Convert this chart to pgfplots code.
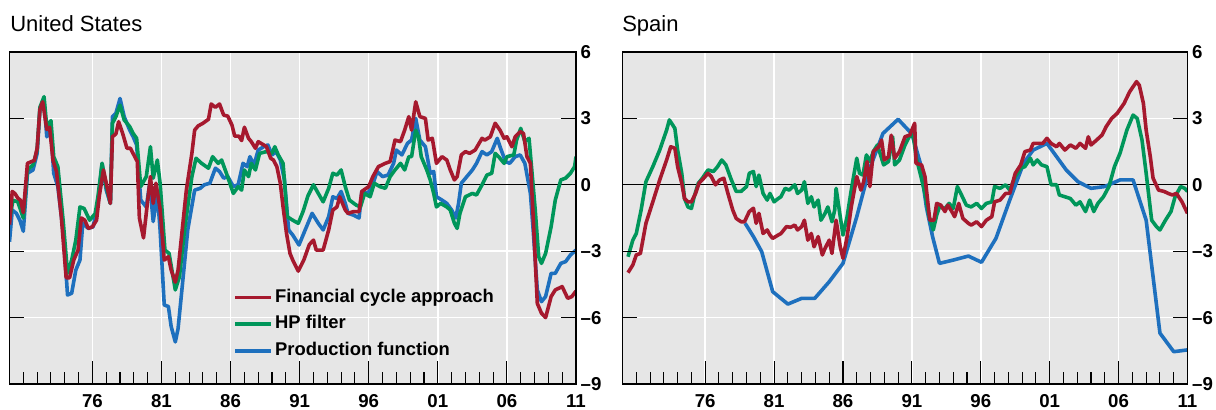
\documentclass[border=0pt]{standalone}
\usepackage{pgfplots}
\pgfplotsset{compat=1.18}
\usepackage{fontspec}
\setmainfont{Liberation Sans}
\definecolor{fcred}{RGB}{166,25,46}
\definecolor{hpgreen}{RGB}{0,150,90}
\definecolor{pfblue}{RGB}{30,112,190}
\definecolor{bg}{RGB}{230,230,230}
\tikzset{tickl/.style={black, line width=0.8pt}}

\pgfplotsset{
 panel/.style={
  scale only axis, height=249pt,
  xmin=1970, xmax=2011, ymin=-9, ymax=6,
  axis background/.style={fill=bg},
  axis on top,
  xtick={1976,1981,...,2011},
  xticklabels={76,81,86,91,96,01,06,11},
  minor xtick={1970,...,2011},
  ytick={-9,-6,-3,0,3,6},
  yticklabels={\textendash9,\textendash6,\textendash3,0,3,6},
  yticklabel pos=right,
  xtick pos=bottom,
  ytick pos=both,
  tick align=inside,
  axis line style={black, line width=1.4pt},
  tick style={black, line width=0.8pt},
  major tick length=1pt,
  minor tick length=9pt,
  ticklabel style={font=\fontsize{14}{14}\selectfont\bfseries},
  xticklabel style={yshift=-4.5pt},
  no markers,
  every axis plot/.append style={line width=2.7pt, line join=round},
 },
 gridl/.style={forget plot, white, line width=1.1pt},
}
\newcommand{\panelgrid}{%
\addplot[gridl] coordinates {(1976,-9)(1976,6)};
\addplot[gridl] coordinates {(1981,-9)(1981,6)};
\addplot[gridl] coordinates {(1986,-9)(1986,6)};
\addplot[gridl] coordinates {(1991,-9)(1991,6)};
\addplot[gridl] coordinates {(1996,-9)(1996,6)};
\addplot[gridl] coordinates {(2001,-9)(2001,6)};
\addplot[gridl] coordinates {(2006,-9)(2006,6)};
\addplot[gridl] coordinates {(1970,-6)(2011,-6)};
\addplot[gridl] coordinates {(1970,-3)(2011,-3)};
\addplot[gridl] coordinates {(1970,3)(2011,3)};
\addplot[forget plot, black, line width=0.9pt] coordinates {(1970,0) (2011,0)};
}
\newcommand{\paneltick}{%
\draw[tickl] (axis cs:1976,-9) -- ++(0pt,17pt);
\draw[tickl] (axis cs:1981,-9) -- ++(0pt,17pt);
\draw[tickl] (axis cs:1986,-9) -- ++(0pt,17pt);
\draw[tickl] (axis cs:1991,-9) -- ++(0pt,17pt);
\draw[tickl] (axis cs:1996,-9) -- ++(0pt,17pt);
\draw[tickl] (axis cs:2001,-9) -- ++(0pt,17pt);
\draw[tickl] (axis cs:2006,-9) -- ++(0pt,17pt);
\draw[tickl] (axis cs:1970,3) -- ++(11pt,0pt);
\draw[tickl] (axis cs:1970,-3) -- ++(11pt,0pt);
\draw[tickl] (axis cs:1970,-6) -- ++(11pt,0pt);
\draw[tickl] (axis cs:2011,3) -- ++(-11pt,0pt);
\draw[tickl] (axis cs:2011,-3) -- ++(-11pt,0pt);
\draw[tickl] (axis cs:2011,-6) -- ++(-11pt,0pt);
}

\begin{document}
\begin{tikzpicture}
\begin{axis}[panel, at={(7.125pt,19.5pt)}, anchor=south west, width=424.875pt,
  legend style={at={(0.395,0.180)}, anchor=west, draw=none, fill=none,
    font=\fontsize{13.8}{14}\selectfont\bfseries, inner sep=0pt, row sep=4pt,
    nodes={inner sep=1.5pt, text height=10pt, text depth=3pt},
    /tikz/every even column/.append style={column sep=7pt}},
  legend cell align=left,
  legend image code/.code={\draw[#1, line width=2.7pt] (0pt,0pt) -- (27pt,0pt);}]
\addlegendimage{fcred}\addlegendentry{Financial cycle approach}
\addlegendimage{hpgreen}\addlegendentry{HP filter}
\addlegendimage{pfblue}\addlegendentry{Production function}
\panelgrid
% US production function
\addplot[forget plot, pfblue] coordinates {
(1970.0,-2.57)(1970.2,-1.14)(1970.5,-1.29)(1970.75,-1.6)(1971.0,-2.1)(1971.3,0.52)(1971.7,0.67)
(1972.0,1.42)(1972.2,3.38)(1972.5,3.75)(1972.7,2.17)(1973.0,2.47)(1973.2,0.52)(1973.5,-0.08)
(1973.9,-2.2)(1974.2,-4.98)(1974.5,-4.9)(1974.8,-3.85)(1975.1,-3.4)(1975.3,-1.74)(1975.7,-1.97)
(1976.05,-1.9)(1976.4,-0.84)(1976.7,0.97)(1977.0,-0.24)(1977.3,-0.84)(1977.45,3.08)(1977.7,3.23)
(1978.0,3.9)(1978.3,3.08)(1978.7,2.47)(1978.95,2.17)(1979.2,1.8)(1979.5,-0.69)(1979.9,-1.0)
(1980.15,0.07)(1980.4,-1.66)(1980.7,-0.39)(1980.9,-2.04)(1981.2,-5.43)(1981.5,-5.5)(1981.7,-6.4)
(1982.0,-7.1)(1982.2,-6.5)(1982.5,-4.6)(1982.9,-2.04)(1983.4,-0.24)(1983.8,-0.16)(1984.1,0.0)
(1984.5,0.07)(1984.9,0.75)(1985.2,0.6)(1985.5,0.3)(1985.8,0.37)(1986.2,-0.08)(1986.55,0.0)
(1986.9,0.97)(1987.2,0.82)(1987.4,1.27)(1987.7,0.9)(1988.0,1.57)(1988.4,1.72)(1988.7,1.8)
(1989.0,1.35)(1989.3,1.5)(1989.6,1.12)(1989.9,0.22)(1990.2,-2.04)(1990.5,-2.27)(1990.95,-2.72)
(1991.4,-2.04)(1991.9,-1.29)(1992.35,-1.74)(1992.7,-2.04)(1993.1,-1.44)(1993.4,-0.54)(1993.7,-0.62)
(1994.0,-0.3)(1994.3,-0.84)(1994.5,-1.29)(1994.9,-1.37)(1995.3,-1.5)(1995.5,-0.3)(1995.9,-0.39)
(1996.2,-0.16)(1996.6,0.6)(1997.0,0.37)(1997.4,0.44)(1997.8,0.97)(1998.0,1.57)(1998.4,1.35)
(1998.8,1.87)(1999.1,2.02)(1999.4,3.0)(1999.7,2.02)(2000.1,1.72)(2000.45,0.52)(2000.7,0.6)
(2000.9,-0.54)(2001.3,-0.69)(2001.65,-0.84)(2002.0,-1.14)(2002.3,-1.5)(2002.5,-0.84)(2002.7,0.07)
(2003.1,0.37)(2003.5,0.67)(2003.8,0.97)(2004.2,1.5)(2004.55,1.35)(2004.9,1.5)(2005.3,2.1)
(2005.5,1.72)(2005.9,1.05)(2006.2,0.97)(2006.6,1.27)(2006.96,1.35)(2007.3,0.97)(2007.7,-0.39)
(2007.9,-2.04)(2008.2,-4.75)(2008.5,-5.28)(2008.8,-5.05)(2009.2,-4.0)(2009.5,-4.0)(2009.9,-3.55)
(2010.25,-3.47)(2010.6,-3.17)(2011.0,-2.95)};
% US HP filter
\addplot[forget plot, hpgreen] coordinates {
(1970.0,-1.6)(1970.25,-0.7)(1970.6,-0.77)(1971.0,-1.5)(1971.3,0.67)(1971.7,0.9)(1972.0,1.57)
(1972.2,3.5)(1972.5,3.98)(1972.7,2.6)(1973.0,2.9)(1973.2,1.27)(1973.5,0.82)(1973.9,-1.74)
(1974.2,-4.0)(1974.5,-3.4)(1974.8,-2.5)(1975.1,-1.0)(1975.4,-1.07)(1975.8,-1.6)(1976.2,-1.3)
(1976.4,-0.54)(1976.7,0.97)(1977.0,-0.08)(1977.3,-0.84)(1977.45,2.78)(1977.7,3.08)(1978.0,3.6)
(1978.3,2.93)(1978.7,2.63)(1978.95,2.32)(1979.2,2.1)(1979.5,-0.08)(1979.9,0.37)(1980.2,1.72)
(1980.4,0.3)(1980.7,1.12)(1980.9,0.07)(1981.25,-2.95)(1981.55,-3.1)(1982.0,-4.75)(1982.3,-4.15)
(1982.7,-1.9)(1983.2,0.37)(1983.5,1.2)(1983.9,0.97)(1984.4,0.75)(1984.7,1.27)(1985.1,0.97)
(1985.35,1.12)(1985.7,0.52)(1986.2,-0.39)(1986.55,-0.08)(1986.8,-0.24)(1987.0,0.67)(1987.3,0.37)
(1987.5,0.97)(1987.8,0.67)(1988.1,1.42)(1988.6,1.5)(1989.0,1.42)(1989.2,1.72)(1989.45,1.35)
(1989.8,0.97)(1990.1,-1.44)(1990.5,-1.6)(1990.9,-1.74)(1991.25,-1.2)(1991.6,-0.5)(1992.0,0.0)
(1992.35,-0.39)(1992.7,-0.77)(1993.1,-0.16)(1993.4,0.52)(1993.7,0.44)(1994.0,0.67)(1994.3,-0.08)
(1994.6,-0.69)(1995.1,-0.92)(1995.4,-1.0)(1995.7,-0.39)(1996.1,-0.54)(1996.4,0.07)(1996.8,-0.08)
(1997.2,-0.16)(1997.55,0.37)(1997.9,0.67)(1998.3,0.97)(1998.6,0.67)(1998.9,1.27)(1999.1,1.27)
(1999.4,2.47)(1999.6,2.17)(1999.8,1.27)(2000.2,0.67)(2000.45,0.22)(2000.7,-0.39)(2000.9,-1.0)
(2001.2,-0.84)(2001.65,-1.0)(2001.9,-1.14)(2002.2,-1.74)(2002.4,-1.97)(2002.6,-1.29)(2003.0,-0.54)
(2003.5,-0.39)(2003.8,-0.46)(2004.2,0.0)(2004.55,0.44)(2004.9,0.52)(2005.15,1.42)(2005.4,1.27)
(2005.8,0.97)(2006.0,1.27)(2006.5,1.35)(2006.7,2.02)(2007.0,2.55)(2007.3,1.95)(2007.6,2.1)
(2007.8,0.67)(2008.05,-1.14)(2008.3,-3.25)(2008.5,-3.55)(2008.8,-3.1)(2009.2,-1.89)(2009.5,-0.69)
(2009.9,0.22)(2010.25,0.3)(2010.6,0.52)(2010.9,0.82)(2011.0,1.27)};
% US financial cycle
\addplot[forget plot, fcred] coordinates {
(1970.0,-1.8)(1970.2,-0.3)(1970.4,-0.4)(1970.6,-0.6)(1970.8,-0.7)(1971.0,-1.26)(1971.3,0.97)
(1971.6,1.05)(1971.8,1.1)(1972.0,1.65)(1972.2,3.4)(1972.4,3.75)(1972.7,2.5)(1972.9,2.6)
(1973.15,1.1)(1973.4,0.6)(1973.75,-1.44)(1974.1,-4.2)(1974.35,-4.2)(1974.65,-3.4)(1974.96,-2.95)
(1975.2,-1.5)(1975.45,-1.6)(1975.7,-1.97)(1976.0,-1.9)(1976.3,-1.6)(1976.5,-0.5)(1976.8,0.67)
(1977.1,-0.2)(1977.3,-0.84)(1977.45,2.17)(1977.7,2.3)(1977.9,2.85)(1978.2,2.3)(1978.5,1.65)
(1978.75,1.65)(1979.0,1.35)(1979.25,1.05)(1979.4,-1.5)(1979.7,-2.4)(1979.95,-1.0)(1980.2,0.37)
(1980.4,-0.84)(1980.6,0.07)(1980.9,-1.1)(1981.2,-3.4)(1981.5,-3.25)(1981.7,-3.85)(1982.0,-4.4)
(1982.2,-3.85)(1982.5,-2.04)(1982.8,-0.24)(1983.2,1.42)(1983.4,2.47)(1983.65,2.66)(1984.0,2.78)
(1984.4,2.96)(1984.6,3.65)(1984.9,3.5)(1985.2,3.65)(1985.5,3.15)(1985.8,3.1)(1986.1,2.7)
(1986.3,2.2)(1986.6,2.2)(1986.8,2.0)(1987.0,2.6)(1987.3,2.1)(1987.5,1.95)(1987.8,1.65)
(1988.0,1.95)(1988.4,1.8)(1988.6,1.72)(1988.9,1.2)(1989.1,1.12)(1989.35,0.82)(1989.6,0.07)
(1989.8,-1.0)(1990.05,-2.2)(1990.3,-3.1)(1990.5,-3.4)(1990.9,-3.9)(1991.3,-3.4)(1991.7,-2.7)
(1992.0,-2.5)(1992.2,-2.95)(1992.7,-2.95)(1993.1,-2.04)(1993.4,-1.14)(1993.7,-1.0)(1993.9,-0.54)
(1994.3,-1.14)(1994.5,-1.29)(1994.9,-1.21)(1995.3,-1.21)(1995.5,-0.3)(1996.0,-0.08)(1996.3,0.37)
(1996.7,0.82)(1997.2,0.97)(1997.55,1.05)(1997.9,2.02)(1998.3,1.95)(1998.6,2.47)(1998.9,3.08)
(1999.1,2.47)(1999.4,3.75)(1999.7,3.08)(2000.1,3.0)(2000.3,2.02)(2000.6,2.1)(2000.9,0.97)
(2001.3,1.27)(2001.65,1.12)(2001.9,0.67)(2002.2,0.22)(2002.4,0.37)(2002.7,1.35)(2003.0,1.5)
(2003.3,1.42)(2003.7,1.57)(2004.2,2.1)(2004.4,2.02)(2004.8,2.17)(2005.15,2.78)(2005.5,2.47)
(2005.8,2.1)(2006.0,2.17)(2006.36,1.72)(2006.6,2.17)(2006.96,2.4)(2007.2,2.32)(2007.45,1.27)
(2007.7,0.97)(2007.9,-1.44)(2008.2,-5.36)(2008.5,-5.8)(2008.8,-6.0)(2009.2,-5.05)(2009.5,-4.75)
(2010.0,-4.6)(2010.4,-5.13)(2010.7,-5.05)(2011.0,-4.8)};
\paneltick
\end{axis}

\begin{axis}[panel, at={(466.875pt,19.5pt)}, anchor=south west, width=423.75pt]
\panelgrid
% Spain production function
\addplot[forget plot, pfblue] coordinates {
(1978.9,-1.74)(1979.5,-2.34)(1980.1,-3.02)(1980.9,-4.83)(1982.0,-5.39)(1983.0,-5.13)(1983.95,-5.13)
(1985.0,-4.38)(1986.0,-3.55)(1987.0,-1.44)(1987.9,0.67)(1988.9,2.32)(1990.0,2.96)(1991.0,2.3)
(1991.6,1.0)(1992.05,-1.0)(1992.5,-2.34)(1993.0,-3.55)(1994.0,-3.4)(1995.1,-3.22)(1996.05,-3.5)
(1997.1,-2.42)(1998.1,-0.69)(1999.1,0.97)(1999.8,1.57)(2000.8,1.87)(2002.2,0.67)(2003.05,0.14)
(2004.0,-0.16)(2005.0,-0.08)(2006.1,0.22)(2007.05,0.22)(2008.0,-1.6)(2009.0,-6.7)(2010.0,-7.54)
(2011.0,-7.46)};
% Spain HP filter
\addplot[forget plot, hpgreen] coordinates {
(1970.4,-3.25)(1970.75,-2.5)(1971.0,-2.2)(1971.35,-1.14)(1971.7,0.14)(1972.2,0.82)(1972.7,1.57)
(1973.2,2.47)(1973.4,2.93)(1973.8,2.55)(1974.0,1.57)(1974.3,0.52)(1974.5,-0.62)(1974.75,-1.0)
(1975.0,-1.07)(1975.2,-0.54)(1975.5,0.07)(1975.8,0.3)(1976.2,0.67)(1976.6,0.6)(1976.9,0.82)
(1977.2,1.12)(1977.5,0.9)(1977.9,0.22)(1978.25,-0.3)(1978.6,-0.3)(1979.0,-0.08)(1979.2,0.52)
(1979.5,0.6)(1979.7,-0.08)(1979.9,0.44)(1980.2,-0.39)(1980.5,-0.69)(1980.7,-0.39)(1981.0,-0.77)
(1981.3,-0.62)(1981.5,-0.54)(1981.8,-0.16)(1982.1,-0.24)(1982.5,0.0)(1982.7,-0.39)(1983.0,-0.24)
(1983.2,0.14)(1983.45,-0.84)(1983.7,-0.54)(1983.9,-1.0)(1984.2,-0.69)(1984.4,-1.6)(1984.7,-1.29)
(1984.9,-1.0)(1985.2,-1.67)(1985.4,-1.14)(1985.5,-0.16)(1985.8,-1.44)(1986.0,-2.27)(1986.3,-1.44)
(1986.6,-0.24)(1987.0,1.2)(1987.2,0.52)(1987.45,0.44)(1987.7,1.35)(1987.95,1.05)(1988.2,1.5)
(1988.5,1.8)(1988.95,0.9)(1989.3,1.05)(1989.6,2.17)(1989.75,0.9)(1990.1,1.12)(1990.5,1.8)
(1990.8,2.17)(1991.1,2.25)(1991.3,1.27)(1991.6,0.52)(1991.95,-0.39)(1992.25,-1.44)(1992.55,-2.04)
(1992.8,-1.37)(1993.0,-1.0)(1993.4,-1.07)(1993.7,-0.84)(1994.0,-1.07)(1994.3,-0.08)(1994.6,-0.46)
(1994.95,-0.92)(1995.3,-1.0)(1995.7,-0.84)(1996.05,-1.07)(1996.4,-0.84)(1996.8,-0.77)(1997.0,-0.08)
(1997.4,-0.16)(1997.8,0.0)(1998.1,-0.24)(1998.5,0.37)(1998.9,0.75)(1999.2,0.82)(1999.6,1.2)
(1999.8,0.9)(2000.1,1.12)(2000.4,0.9)(2000.8,0.82)(2001.1,0.0)(2001.5,0.0)(2001.7,-0.46)
(2002.1,-0.54)(2002.5,-0.62)(2002.9,-0.92)(2003.2,-0.77)(2003.6,-1.21)(2003.9,-0.69)(2004.2,-1.21)
(2004.5,-0.84)(2004.9,-0.54)(2005.3,-0.08)(2005.7,0.82)(2006.1,1.42)(2006.6,2.47)(2007.05,3.15)
(2007.35,3.0)(2007.7,2.02)(2008.0,0.52)(2008.4,-1.6)(2008.75,-1.89)(2009.0,-2.04)(2009.4,-1.6)
(2009.8,-1.21)(2010.1,-0.54)(2010.5,-0.08)(2010.8,-0.16)(2011.0,-0.3)};
% Spain financial cycle
\addplot[forget plot, fcred] coordinates {
(1970.4,-3.97)(1970.75,-3.62)(1971.0,-3.17)(1971.3,-3.1)(1971.7,-1.74)(1972.2,-0.77)(1972.7,0.22)
(1973.2,1.12)(1973.5,1.72)(1973.8,1.65)(1974.0,0.82)(1974.3,0.07)(1974.5,-0.62)(1974.75,-0.77)
(1975.0,-0.77)(1975.3,-0.39)(1975.55,0.07)(1975.9,0.3)(1976.2,0.52)(1976.45,0.37)(1976.75,0.0)
(1977.05,0.22)(1977.35,0.3)(1977.65,-0.39)(1978.0,-1.14)(1978.25,-1.52)(1978.6,-1.67)(1978.85,-1.67)
(1979.2,-1.21)(1979.5,-1.06)(1979.7,-1.74)(1979.9,-1.29)(1980.2,-2.2)(1980.5,-2.04)(1980.7,-2.27)
(1980.9,-2.42)(1981.3,-2.27)(1981.5,-2.2)(1981.9,-1.89)(1982.2,-1.92)(1982.5,-1.82)(1982.7,-2.04)
(1983.0,-1.89)(1983.2,-1.6)(1983.45,-2.5)(1983.7,-2.2)(1983.9,-2.8)(1984.2,-2.34)(1984.5,-3.17)
(1984.7,-2.87)(1985.0,-2.5)(1985.2,-3.1)(1985.5,-1.6)(1985.8,-2.8)(1986.0,-3.32)(1986.3,-2.34)
(1986.6,-1.0)(1987.0,0.37)(1987.3,-0.24)(1987.5,0.14)(1987.75,1.05)(1987.95,-0.08)(1988.2,1.5)
(1988.6,1.72)(1988.8,2.02)(1989.0,1.12)(1989.3,1.27)(1989.5,2.24)(1989.75,1.2)(1990.1,1.5)
(1990.5,2.17)(1990.85,2.25)(1991.2,2.78)(1991.3,0.97)(1991.7,0.9)(1991.95,0.37)(1992.3,-1.6)
(1992.6,-1.6)(1992.8,-0.84)(1993.1,-0.92)(1993.4,-1.21)(1993.6,-0.92)(1993.9,-1.21)(1994.1,-1.44)
(1994.4,-0.84)(1994.7,-1.52)(1995.1,-1.74)(1995.3,-1.82)(1995.7,-1.67)(1996.05,-1.89)(1996.4,-1.6)
(1996.8,-1.44)(1997.0,-0.77)(1997.4,-0.69)(1997.8,-0.39)(1998.1,-0.39)(1998.5,0.52)(1998.9,0.9)
(1999.2,1.5)(1999.6,1.57)(1999.8,1.87)(2000.2,1.87)(2000.5,1.87)(2000.8,2.1)(2001.1,1.87)
(2001.5,1.72)(2001.7,1.87)(2002.1,1.57)(2002.5,1.8)(2002.9,1.65)(2003.2,1.87)(2003.6,1.65)
(2003.8,2.17)(2004.0,1.8)(2004.4,2.02)(2004.8,2.25)(2005.1,2.63)(2005.5,3.0)(2005.9,3.23)
(2006.4,3.68)(2006.8,4.2)(2007.3,4.66)(2007.5,4.5)(2007.8,3.68)(2008.0,2.47)(2008.3,1.27)
(2008.5,0.3)(2008.9,-0.24)(2009.3,-0.3)(2009.6,-0.39)(2009.9,-0.46)(2010.2,-0.39)(2010.6,-0.77)
(2011.0,-1.29)};
\paneltick
\end{axis}
\node[anchor=base west, inner sep=0pt, font=\fontsize{16.5}{18}\selectfont] at (7.5pt,283.7pt) {United States};
\node[anchor=base west, inner sep=0pt, font=\fontsize{16.5}{18}\selectfont] at (466.5pt,283.7pt) {Spain};
\pgfresetboundingbox
\useasboundingbox (0,0) rectangle (912pt,307.5pt);
\end{tikzpicture}
\end{document}
